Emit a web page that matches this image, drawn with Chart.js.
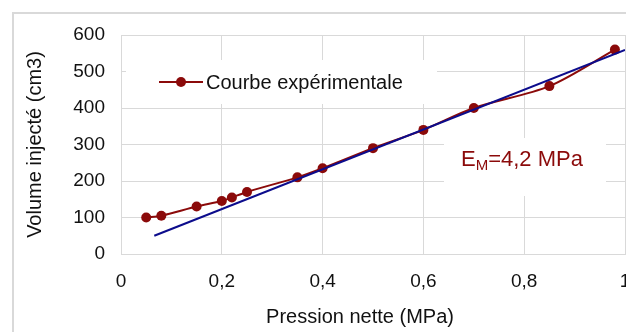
<!DOCTYPE html>
<html>
<head>
<meta charset="utf-8">
<script src="https://cdn.jsdelivr.net/npm/chart.js@4.4.1/dist/chart.umd.min.js"></script>
<style>
  html, body { margin: 0; padding: 0; background: #fff; overflow: hidden; width: 626px; height: 332px; }
  #wrap { position: relative; width: 626px; height: 332px; overflow: hidden; }
  #frame { position: absolute; left: 12px; top: 12px; width: 720px; height: 400px; border: 2px solid #d9d9d9; box-sizing: border-box; pointer-events: none; }
  canvas { position: absolute; left: 0; top: 0; }
</style>
</head>
<body>
<div id="wrap">
  <canvas id="chart" width="680" height="332"></canvas>
  <div id="frame"></div>
</div>
<script>
const pressure = [0.05, 0.08, 0.15, 0.2, 0.22, 0.25, 0.35, 0.4, 0.5, 0.6, 0.7, 0.85, 0.98];
const volume = [100, 105, 130, 145, 155, 170, 210, 235, 290, 340, 400, 460, 560];
const fitX = [0.066, 1];
const fitY = [50, 559];
const xTickLabels = ["0", "0,2", "0,4", "0,6", "0,8", "1"];
const seriesName = "Courbe expérimentale";
const xTitle = "Pression nette (MPa)";
const yTitle = "Volume injecté (cm3)";
const modulusLabel = ["E", "M", "=4,2 MPa"];

const red = "#8b0a0a";
const blue = "#0c0c8c";
const grey = "#d9d9d9";
const textCol = "#111";
const fam = "'Liberation Sans', Arial, sans-serif";

const overlay = {
  id: "overlay",
  beforeDatasetsDraw(chart) {
    const ctx = chart.ctx;
    const a = chart.chartArea;
    ctx.save();
    // white boxes hiding the grid
    ctx.fillStyle = "#fff";
    ctx.fillRect(a.left + 5, a.top + 25, 311, 44);
    ctx.fillRect(a.left + 323, a.top + 103, 162, 58);

    // legend
    const ly = a.top + 47;
    ctx.strokeStyle = red;
    ctx.lineWidth = 2;
    ctx.beginPath();
    ctx.moveTo(a.left + 38, ly);
    ctx.lineTo(a.left + 82, ly);
    ctx.stroke();
    ctx.fillStyle = red;
    ctx.beginPath();
    ctx.arc(a.left + 60, ly, 5, 0, Math.PI * 2);
    ctx.fill();
    ctx.fillStyle = textCol;
    ctx.font = "20px " + fam;
    ctx.textBaseline = "middle";
    ctx.textAlign = "left";
    ctx.fillText(seriesName, a.left + 85, ly + 1);

    // x axis title, centred like the original
    ctx.textAlign = "center";
    ctx.fillText(xTitle, a.left + 239, 317);
    ctx.textAlign = "left";

    // modulus annotation
    let x = a.left + 340;
    const by = a.top + 131;
    ctx.fillStyle = red;
    ctx.textBaseline = "alphabetic";
    ctx.font = "22px " + fam;
    ctx.fillText(modulusLabel[0], x, by);
    x += ctx.measureText(modulusLabel[0]).width;
    ctx.font = "15px " + fam;
    ctx.fillText(modulusLabel[1], x, by + 4);
    x += ctx.measureText(modulusLabel[1]).width;
    ctx.font = "22px " + fam;
    ctx.fillText(modulusLabel[2], x, by);
    ctx.restore();
  }
};

new Chart(document.getElementById("chart").getContext("2d"), {
  type: "line",
  data: {
    datasets: [
      {
        label: seriesName,
        data: pressure.map((p, i) => ({ x: p, y: volume[i] })),
        borderColor: red,
        backgroundColor: red,
        borderWidth: 2,
        pointRadius: 5,
        pointBorderWidth: 0,
        tension: 0.3,
        order: 2,
      },
      {
        label: "Droite",
        data: fitX.map((p, i) => ({ x: p, y: fitY[i] })),
        borderColor: blue,
        borderWidth: 2,
        pointRadius: 0,
        order: 1,
      },
    ],
  },
  options: {
    responsive: false,
    animation: false,
    devicePixelRatio: 1,
    layout: { padding: { left: 0, top: 35, right: 55, bottom: 0 } },
    plugins: {
      legend: { display: false },
      tooltip: { enabled: false },
    },
    scales: {
      x: {
        type: "linear",
        min: 0,
        max: 1,
        ticks: {
          stepSize: 0.2,
          padding: 16,
          color: textCol,
          font: { family: fam, size: 19 },
          callback: (v, i) => xTickLabels[i],
        },
        grid: { color: grey, drawTicks: false },
        border: { color: grey },
        title: { display: false },
        afterFit: (s) => { s.height = 78; s.paddingRight = 0; s.paddingLeft = 0; },
      },
      y: {
        min: 0,
        max: 600,
        ticks: {
          stepSize: 100,
          padding: 16,
          color: textCol,
          font: { family: fam, size: 19 },
        },
        grid: { color: grey, drawTicks: false },
        border: { color: grey },
        title: {
          display: true,
          text: yTitle,
          color: textCol,
          font: { family: fam, size: 20 },
          padding: { top: 23, bottom: 0 },
        },
        afterFit: (s) => { s.width = 121; },
      },
    },
  },
  plugins: [overlay],
});
</script>
</body>
</html>
